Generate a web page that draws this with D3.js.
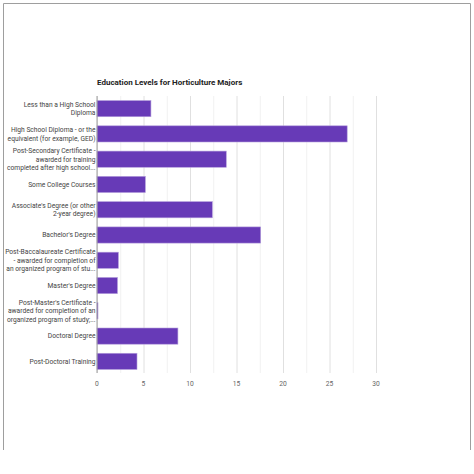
<!DOCTYPE html>
<html>
<head>
<meta charset="utf-8">
<script src="https://cdn.jsdelivr.net/npm/d3@7"></script>
<style>
  body { margin: 0; background: #fff; }
  text { font-family: Roboto, "Noto Sans", sans-serif; }
</style>
</head>
<body>
<div id="chart"></div>
<script>
// Data
const categories = [
    ['Less than a High School', 'Diploma'],
    ['High School Diploma - or the', 'equivalent (for example, GED)'],
    ['Post-Secondary Certificate -', 'awarded for training', 'completed after high school...'],
    ['Some College Courses'],
    ["Associate's Degree (or other", '2-year degree)'],
    ["Bachelor's Degree"],
    ['Post-Baccalaureate Certificate', '- awarded for completion of', 'an organized program of stu...'],
    ["Master's Degree"],
    ["Post-Master's Certificate -", 'awarded for completion of an', 'organized program of study;...'],
    ['Doctoral Degree'],
    ['Post-Doctoral Training']
];
const values = [5.8, 26.9, 13.9, 5.2, 12.4, 17.6, 2.3, 2.2, 0.1, 8.7, 4.3];
const ticks = [0, 5, 10, 15, 20, 25, 30];
const gridLines = [0, 2.5, 5, 7.5, 10, 12.5, 15, 17.5, 20, 22.5, 25, 27.5, 30];

const svg = d3.select('#chart').append('svg')
    .attr('width', 474)
    .attr('height', 474);

// Frame (no bottom edge visible in the reference)
svg.append('path')
    .attr('d', 'M3.5,450 V3.5 H470.5 V450')
    .attr('fill', 'none')
    .attr('stroke', '#9e9e9e')
    .attr('stroke-width', 1);

svg.append('text')
    .attr('x', 97)
    .attr('y', 85)
    .style('font-size', '8px')
    .style('font-weight', 'bold')
    .attr('fill', '#222')
    .text('Education Levels for Horticulture Majors');

const x = d3.scaleLinear().domain([0, 30]).range([97, 376]);
const y = d3.scaleBand().domain(d3.range(values.length)).range([96, 374]).paddingInner(0.36).paddingOuter(0.18);

// Gridlines
svg.selectAll('.grid')
    .data(gridLines)
    .enter()
    .append('line')
    .attr('x1', d => x(d) + 0.5)
    .attr('x2', d => x(d) + 0.5)
    .attr('y1', 96)
    .attr('y2', 373)
    .attr('stroke', d => d % 5 === 0 ? '#e0e0e0' : '#f1f1f1')
    .attr('stroke-width', 1);

// Bars
svg.selectAll('.bar')
    .data(values)
    .enter()
    .append('rect')
    .attr('x', x(0))
    .attr('y', (d, i) => y(i))
    .attr('width', d => Math.max(x(d) - x(0), 1))
    .attr('height', y.bandwidth())
    .attr('fill', '#673ab7')
    .attr('stroke', '#b39ddb')
    .attr('stroke-width', 0.6);

// Baseline
svg.append('line')
    .attr('x1', x(0)).attr('x2', x(0))
    .attr('y1', 96).attr('y2', 373)
    .attr('stroke', '#9e9e9e');

// Category labels
categories.forEach((lines, i) => {
    const cy = y(i) + y.bandwidth() / 2;
    const t = svg.append('text')
        .attr('text-anchor', 'end')
        .attr('fill', '#444')
        .style('font-size', '6.7px');
    lines.forEach((ln, j) => {
        t.append('tspan')
            .attr('x', 95.5)
            .attr('y', cy + (j - (lines.length - 1) / 2) * 8.6 + 2.4)
            .text(ln);
    });
});

// Tick labels
svg.selectAll('.tick')
    .data(ticks)
    .enter()
    .append('text')
    .attr('x', d => x(d))
    .attr('y', 386)
    .attr('text-anchor', 'middle')
    .attr('fill', '#666')
    .style('font-size', '6.7px')
    .text(d => d);
</script>
</body>
</html>
